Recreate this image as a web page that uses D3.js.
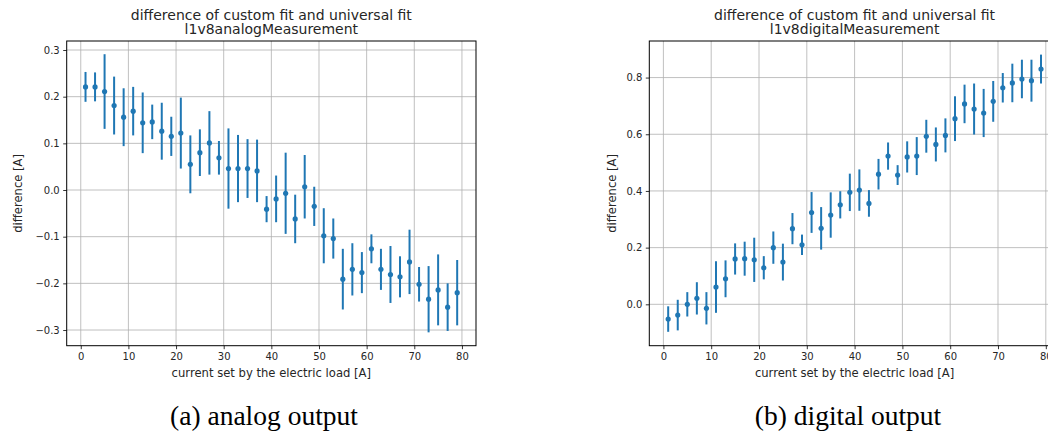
<!DOCTYPE html>
<html>
<head>
<meta charset="utf-8">
<script src="https://cdn.jsdelivr.net/npm/d3@7"></script>
<style>
  body { margin: 0; background: #fff; }
  svg { display: block; }
  text { font-family: "DejaVu Sans", sans-serif; }
</style>
</head>
<body>
<div id="wrapper"></div>
<script>
// current set by the electric load [A]
const loads = [1, 3, 5, 7, 9, 11, 13, 15, 17, 19, 21, 23, 25, 27, 29, 31, 33, 35, 37, 39,
               41, 43, 45, 47, 49, 51, 53, 55, 57, 59, 61, 63, 65, 67, 69, 71, 73, 75, 77, 79];

// analog output: difference and its error
const analogDiff = [0.221, 0.221, 0.211, 0.181, 0.156, 0.169, 0.144, 0.146, 0.126, 0.115,
                    0.122, 0.055, 0.080, 0.101, 0.069, 0.046, 0.046, 0.046, 0.041, -0.041,
                    -0.019, -0.007, -0.062, 0.007, -0.035, -0.098, -0.104, -0.191, -0.170, -0.177,
                    -0.126, -0.170, -0.181, -0.186, -0.154, -0.202, -0.234, -0.214, -0.251, -0.220];
const analogErr = [0.032, 0.031, 0.080, 0.062, 0.062, 0.052, 0.065, 0.037, 0.061, 0.042,
                   0.076, 0.062, 0.050, 0.068, 0.036, 0.086, 0.072, 0.063, 0.067, 0.028,
                   0.050, 0.087, 0.052, 0.068, 0.042, 0.059, 0.043, 0.065, 0.056, 0.044,
                   0.031, 0.044, 0.061, 0.044, 0.069, 0.037, 0.071, 0.076, 0.051, 0.070];

// digital output: difference and its error
const digitalDiff = [-0.052, -0.038, 0.000, 0.021, -0.014, 0.061, 0.090, 0.160, 0.161, 0.157,
                     0.129, 0.200, 0.149, 0.267, 0.210, 0.324, 0.268, 0.315, 0.351, 0.395,
                     0.403, 0.356, 0.459, 0.523, 0.456, 0.520, 0.523, 0.593, 0.564, 0.596,
                     0.655, 0.707, 0.689, 0.675, 0.716, 0.764, 0.781, 0.795, 0.789, 0.830];
const digitalErr = [0.045, 0.054, 0.043, 0.057, 0.057, 0.091, 0.065, 0.055, 0.060, 0.078,
                    0.041, 0.057, 0.065, 0.055, 0.036, 0.072, 0.075, 0.080, 0.048, 0.066,
                    0.073, 0.047, 0.054, 0.048, 0.035, 0.055, 0.067, 0.058, 0.060, 0.060,
                    0.079, 0.068, 0.090, 0.085, 0.072, 0.052, 0.068, 0.068, 0.074, 0.051];

const xTicks = [0, 10, 20, 30, 40, 50, 60, 70, 80];
const analogYTicks = [-0.3, -0.2, -0.1, 0.0, 0.1, 0.2, 0.3];
const digitalYTicks = [0.0, 0.2, 0.4, 0.6, 0.8];

const titleLine = "difference of custom fit and universal fit";
const xLabel = "current set by the electric load [A]";
const yLabel = "difference [A]";

const blue = "#1f77b4";

const svg = d3.select("#wrapper")
    .append("svg")
    .attr("width", 1048)
    .attr("height", 434);

function drawPanel(opts) {
    const { left, top, width, height, diff, err, yDomain, yTicks, name,
            yLabelOffset, caption, captionX } = opts;

    const data = loads.map((x, i) => ({ x, y: diff[i], e: err[i] }));

    const xScale = d3.scaleLinear()
        .domain([-2.95, 82.95])
        .range([0, width]);

    const yScale = d3.scaleLinear()
        .domain(yDomain)
        .range([height, 0]);

    const bounds = svg.append("g")
        .attr("transform", `translate(${left},${top})`);

    // grid
    bounds.append("g")
        .selectAll("line")
        .data(xTicks)
        .join("line")
        .attr("x1", d => xScale(d))
        .attr("x2", d => xScale(d))
        .attr("y1", 0)
        .attr("y2", height)
        .attr("stroke", "#b0b0b0")
        .attr("stroke-width", 0.8);

    bounds.append("g")
        .selectAll("line")
        .data(yTicks)
        .join("line")
        .attr("x1", 0)
        .attr("x2", width)
        .attr("y1", d => yScale(d))
        .attr("y2", d => yScale(d))
        .attr("stroke", "#b0b0b0")
        .attr("stroke-width", 0.8);

    // error bars
    bounds.append("g")
        .selectAll("line")
        .data(data)
        .join("line")
        .attr("x1", d => xScale(d.x))
        .attr("x2", d => xScale(d.x))
        .attr("y1", d => yScale(d.y - d.e))
        .attr("y2", d => yScale(d.y + d.e))
        .attr("stroke", blue)
        .attr("stroke-width", 2);

    bounds.append("g")
        .selectAll("circle")
        .data(data)
        .join("circle")
        .attr("cx", d => xScale(d.x))
        .attr("cy", d => yScale(d.y))
        .attr("r", 2.6)
        .attr("fill", blue);

    // axes
    const xAxis = bounds.append("g")
        .attr("transform", `translate(0,${height})`)
        .call(d3.axisBottom(xScale).tickValues(xTicks).tickFormat(d3.format("d"))
            .tickSize(3.5).tickPadding(3.5));

    const yAxis = bounds.append("g")
        .call(d3.axisLeft(yScale).tickValues(yTicks).tickFormat(d3.format(".1f"))
            .tickSize(3.5).tickPadding(3.5));

    [xAxis, yAxis].forEach(a => {
        a.select(".domain").remove();
        a.selectAll(".tick line").attr("stroke", "#000").attr("stroke-width", 0.8);
        a.selectAll(".tick text")
            .attr("fill", "#262626")
            .style("font-family", "'DejaVu Sans', sans-serif")
            .style("font-size", "10px");
    });

    // frame
    bounds.append("rect")
        .attr("width", width)
        .attr("height", height)
        .attr("fill", "none")
        .attr("stroke", "#000")
        .attr("stroke-width", 1);

    // labels
    bounds.append("text")
        .attr("x", width / 2)
        .attr("y", height + 31.5)
        .attr("text-anchor", "middle")
        .attr("fill", "#262626")
        .style("font-size", "11.6px")
        .text(xLabel);

    bounds.append("text")
        .attr("transform", `translate(${yLabelOffset},${height / 2}) rotate(-90)`)
        .attr("text-anchor", "middle")
        .attr("fill", "#262626")
        .style("font-size", "11.6px")
        .text(yLabel);

    bounds.append("text")
        .attr("x", width / 2)
        .attr("y", -21.5)
        .attr("text-anchor", "middle")
        .attr("fill", "#262626")
        .style("font-size", "14px")
        .text(titleLine);

    bounds.append("text")
        .attr("x", width / 2)
        .attr("y", -7.5)
        .attr("text-anchor", "middle")
        .attr("fill", "#262626")
        .style("font-size", "14px")
        .text(name);

    svg.append("text")
        .attr("x", captionX)
        .attr("y", 425)
        .attr("text-anchor", "middle")
        .attr("fill", "#000")
        .style("font-family", "'Liberation Serif', serif")
        .style("font-size", "27.5px")
        .text(caption);
}

drawPanel({
    left: 66.7, top: 41, width: 409.3, height: 304.7,
    diff: analogDiff, err: analogErr,
    yDomain: [-0.3336, 0.3193], yTicks: analogYTicks,
    name: "l1v8analogMeasurement", yLabelOffset: -44.5,
    caption: "(a) analog output", captionX: 264
});

drawPanel({
    left: 649.3, top: 41, width: 410.6, height: 304.7,
    diff: digitalDiff, err: digitalErr,
    yDomain: [-0.146, 0.929], yTicks: digitalYTicks,
    name: "l1v8digitalMeasurement", yLabelOffset: -33,
    caption: "(b) digital output", captionX: 848
});
</script>
</body>
</html>
